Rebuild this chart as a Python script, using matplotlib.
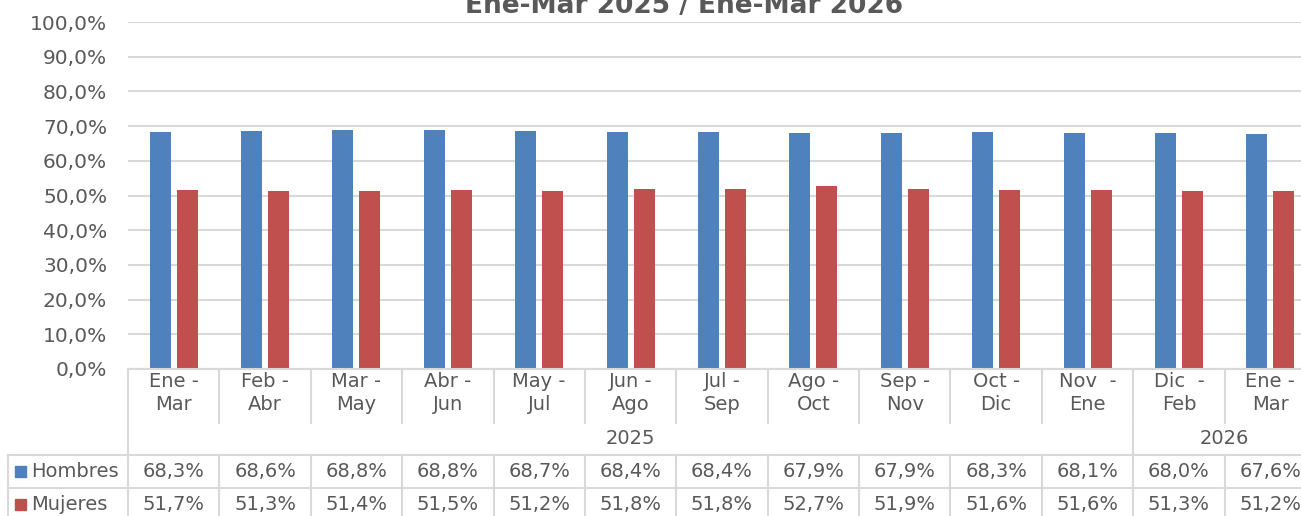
import numpy as np
import matplotlib.pyplot as plt
from matplotlib.patches import Rectangle

# datos
periodos = ["Ene -\nMar", "Feb -\nAbr", "Mar -\nMay", "Abr -\nJun", "May -\nJul",
            "Jun -\nAgo", "Jul -\nSep", "Ago -\nOct", "Sep -\nNov", "Oct -\nDic",
            "Nov  -\nEne", "Dic  -\nFeb", "Ene -\nMar"]
anios = ["2025", "2026"]
n_2025 = 11
hombres = [68.3, 68.6, 68.8, 68.8, 68.7, 68.4, 68.4, 67.9, 67.9, 68.3, 68.1, 68.0, 67.6]
mujeres = [51.7, 51.3, 51.4, 51.5, 51.2, 51.8, 51.8, 52.7, 51.9, 51.6, 51.6, 51.3, 51.2]
series = ["Hombres", "Mujeres"]
colores = ["#4F81BD", "#C0504D"]
titulo = "Ene-Mar 2025 / Ene-Mar 2026"

GRIS = "#595959"
LINEA = "#D9D9D9"
W, H = 1301, 516
plt.rcParams['font.family'] = ['DejaVu Sans']


def fmt(v):
    return f"{v:.1f}".replace(".", ",") + "%"


def main():
    fig = plt.figure(figsize=(W / 100, H / 100), dpi=100)
    n = len(periodos)
    x0, x1, ytop, ybot = 128, 1316, 22, 369
    ancho_col = (x1 - x0) / n

    ax = fig.add_axes([x0 / W, 1 - ybot / H, (x1 - x0) / W, (ybot - ytop) / H])
    x = np.arange(n)
    bw = 0.23
    off = 0.148
    ax.bar(x - off, hombres, bw, color=colores[0], zorder=3)
    ax.bar(x + off, mujeres, bw, color=colores[1], zorder=3)
    ax.set_xlim(-0.5, n - 0.5)
    ax.set_ylim(0, 100)
    ax.set_yticks(np.arange(0, 101, 10))
    ax.set_yticklabels([fmt(v) for v in np.arange(0, 101, 10)])
    ax.tick_params(axis="y", length=0, pad=15, labelsize=14.5, labelcolor=GRIS)
    ax.set_xticks([])
    ax.grid(axis="y", color=LINEA, linewidth=1.5, zorder=0)
    for s in ax.spines.values():
        s.set_visible(False)

    # el título queda recortado por arriba, como en el original
    fig.text(684 / W, 1 - 13 / H, titulo, ha="center", va="baseline",
             fontsize=19, fontweight="bold", color=GRIS)

    # tabla de datos debajo del gráfico
    tax = fig.add_axes([x0 / W, 0, (x1 - x0) / W, (H - ybot) / H])
    tax.set_xlim(-0.5, n - 0.5)
    tax.set_ylim(H - ybot, 0)
    tax.axis("off")
    kw = dict(color=LINEA, linewidth=1.5, clip_on=False)
    r_cat, r_anio, r_h, r_m, r_fin = 0, 54, 86, 119, 160
    izq = -0.5 - (x0 - 8) / ancho_col

    tax.plot([-0.5, n - 0.5], [r_cat, r_cat], **kw)
    tax.plot([izq, n - 0.5], [r_h, r_h], **kw)
    tax.plot([izq, n - 0.5], [r_m, r_m], **kw)
    tax.plot([izq, izq], [r_h, r_fin], **kw)
    tax.plot([-0.5, -0.5], [r_cat, r_fin], **kw)
    for b in range(1, n + 1):
        tax.plot([b - 0.5, b - 0.5], [r_cat, r_anio], **kw)
        tax.plot([b - 0.5, b - 0.5], [r_h, r_fin], **kw)
    tax.plot([n_2025 - 0.5, n_2025 - 0.5], [r_anio, r_h], **kw)

    for i, p in enumerate(periodos):
        tax.text(i, 3, p, ha="center", va="top", fontsize=14, color=GRIS,
                 linespacing=1.25)
    tax.text((n_2025 - 1) / 2, (r_anio + r_h) / 2, anios[0], ha="center",
             va="center", fontsize=14, color=GRIS)
    tax.text((n_2025 + n - 1) / 2, (r_anio + r_h) / 2, anios[1], ha="center",
             va="center", fontsize=14, color=GRIS)

    for fila, (nombre, vals, c) in enumerate(zip(series, [hombres, mujeres], colores)):
        yc = [r_h, r_m][fila] + 16.5
        tax.add_patch(Rectangle((-0.5 - (x0 - 15) / ancho_col, yc - 5.5),
                                11 / ancho_col, 11, color=c, clip_on=False))
        tax.text(-0.5 - (x0 - 31) / ancho_col, yc, nombre, ha="left", va="center",
                 fontsize=14, color=GRIS)
        for i, v in enumerate(vals):
            tax.text(i, yc, fmt(v), ha="center", va="center", fontsize=14, color=GRIS)

    fig.savefig("out.png", dpi=100)


if __name__ == "__main__":
    main()
